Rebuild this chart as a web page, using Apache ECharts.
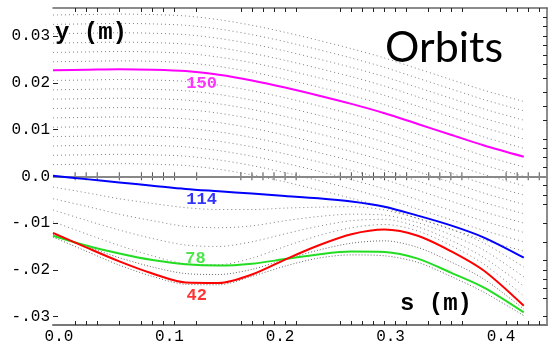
<!DOCTYPE html>
<html>
<head>
<meta charset="utf-8">
<script src="https://cdn.jsdelivr.net/npm/echarts@6/dist/echarts.min.js"></script>
<style>
  html, body { margin: 0; padding: 0; background: #fff; }
  #chart { width: 551px; height: 352px; }
</style>
</head>
<body>
<div id="chart"></div>
<script>
const S = [0, 0.03, 0.06, 0.09, 0.12, 0.15, 0.18, 0.21, 0.24, 0.27, 0.30, 0.33, 0.36, 0.39, 0.426];

// highlighted orbits, y (m)
const ORBIT_150 = [0.0227, 0.0228, 0.0229, 0.0228, 0.0225, 0.0217, 0.0205, 0.0190, 0.0173, 0.0155, 0.0135, 0.0112, 0.0089, 0.0066, 0.0042];
const ORBIT_114 = [0.0001, -0.0006, -0.0013, -0.0020, -0.0027, -0.0032, -0.0037, -0.0042, -0.0047, -0.0054, -0.0065, -0.0084, -0.0105, -0.0131, -0.0174];
const ORBIT_78 = [-0.0127, -0.0148, -0.0165, -0.0179, -0.0188, -0.0191, -0.0187, -0.0177, -0.0167, -0.0161, -0.0162, -0.0176, -0.0206, -0.0238, -0.0291];
const ORBIT_42 = [-0.0121, -0.0152, -0.0182, -0.0208, -0.0227, -0.0228, -0.0210, -0.0178, -0.0148, -0.0124, -0.0114, -0.0127, -0.0160, -0.0202, -0.0277];

// the other orbits, drawn as faint dots
const UPPER_ORBITS = [
  [0.0345, 0.0346, 0.0347, 0.0346, 0.0343, 0.0335, 0.0323, 0.0308, 0.0291, 0.0273, 0.0253, 0.0230, 0.0207, 0.0184, 0.0160],
  [0.0325, 0.0326, 0.0327, 0.0326, 0.0323, 0.0315, 0.0303, 0.0288, 0.0271, 0.0253, 0.0233, 0.0210, 0.0187, 0.0164, 0.0140],
  [0.0305, 0.0306, 0.0307, 0.0306, 0.0303, 0.0295, 0.0283, 0.0268, 0.0251, 0.0233, 0.0213, 0.0190, 0.0167, 0.0144, 0.0120],
  [0.0285, 0.0286, 0.0287, 0.0286, 0.0283, 0.0275, 0.0263, 0.0248, 0.0231, 0.0213, 0.0193, 0.0170, 0.0147, 0.0124, 0.0100],
  [0.0265, 0.0266, 0.0267, 0.0266, 0.0263, 0.0255, 0.0243, 0.0228, 0.0211, 0.0193, 0.0173, 0.0150, 0.0127, 0.0104, 0.0080],
  [0.0245, 0.0246, 0.0247, 0.0246, 0.0243, 0.0235, 0.0223, 0.0208, 0.0191, 0.0173, 0.0153, 0.0130, 0.0107, 0.0084, 0.0060],
  [0.0205, 0.0206, 0.0207, 0.0206, 0.0203, 0.0195, 0.0183, 0.0168, 0.0151, 0.0133, 0.0113, 0.0090, 0.0067, 0.0044, 0.0020],
  [0.0185, 0.0186, 0.0187, 0.0186, 0.0183, 0.0175, 0.0163, 0.0148, 0.0131, 0.0113, 0.0093, 0.0070, 0.0047, 0.0024, 0.0000],
  [0.0165, 0.0166, 0.0167, 0.0166, 0.0163, 0.0155, 0.0143, 0.0128, 0.0111, 0.0093, 0.0073, 0.0050, 0.0027, 0.0004, -0.0020],
  [0.0145, 0.0146, 0.0147, 0.0146, 0.0143, 0.0135, 0.0123, 0.0108, 0.0091, 0.0073, 0.0053, 0.0030, 0.0007, -0.0016, -0.0040],
  [0.0125, 0.0126, 0.0127, 0.0126, 0.0123, 0.0115, 0.0103, 0.0088, 0.0071, 0.0053, 0.0033, 0.0010, -0.0013, -0.0036, -0.0060],
  [0.0105, 0.0106, 0.0107, 0.0106, 0.0103, 0.0095, 0.0083, 0.0068, 0.0051, 0.0033, 0.0013, -0.0010, -0.0033, -0.0056, -0.0080],
  [0.0085, 0.0086, 0.0087, 0.0086, 0.0083, 0.0075, 0.0063, 0.0048, 0.0031, 0.0013, -0.0007, -0.0030, -0.0053, -0.0076, -0.0100],
  [0.0065, 0.0066, 0.0067, 0.0066, 0.0063, 0.0055, 0.0043, 0.0028, 0.0011, -0.0007, -0.0027, -0.0050, -0.0073, -0.0096, -0.0120],
  [0.0045, 0.0046, 0.0047, 0.0046, 0.0043, 0.0035, 0.0023, 0.0008, -0.0009, -0.0027, -0.0047, -0.0070, -0.0093, -0.0116, -0.0140],
  [0.0025, 0.0026, 0.0027, 0.0026, 0.0023, 0.0015, 0.0003, -0.0012, -0.0029, -0.0047, -0.0067, -0.0090, -0.0113, -0.0136, -0.0160]
];
const LOWER_ORBITS = [
  [-0.0023, -0.0035, -0.0048, -0.0058, -0.0067, -0.0071, -0.0071, -0.0068, -0.0066, -0.0065, -0.0072, -0.0090, -0.0113, -0.0143, -0.0194],
  [-0.0048, -0.0064, -0.0081, -0.0095, -0.0107, -0.0110, -0.0106, -0.0095, -0.0086, -0.0081, -0.0083, -0.0099, -0.0125, -0.0158, -0.0215],
  [-0.0072, -0.0094, -0.0115, -0.0133, -0.0147, -0.0150, -0.0140, -0.0123, -0.0107, -0.0095, -0.0092, -0.0108, -0.0137, -0.0174, -0.0235],
  [-0.0097, -0.0123, -0.0148, -0.0170, -0.0187, -0.0189, -0.0175, -0.0150, -0.0127, -0.0110, -0.0103, -0.0117, -0.0148, -0.0188, -0.0256]
];
const DENSE_ORBITS = [
  [-0.0124, -0.0150, -0.0174, -0.0194, -0.0208, -0.0210, -0.0199, -0.0178, -0.0158, -0.0143, -0.0138, -0.0152, -0.0183, -0.0220, -0.0284],
  [-0.0130, -0.0160, -0.0190, -0.0214, -0.0231, -0.0232, -0.0214, -0.0192, -0.0175, -0.0168, -0.0170, -0.0184, -0.0214, -0.0248, -0.0298]
];

// tick marks along s (element positions), and on the y axes
const S_TICKS = [0.02, 0.03, 0.04, 0.06, 0.08, 0.09, 0.10, 0.11, 0.13, 0.17, 0.18, 0.19, 0.20, 0.21, 0.22,
  0.26, 0.27, 0.28, 0.29, 0.30, 0.31, 0.32, 0.34, 0.35, 0.36, 0.37, 0.41, 0.42, 0.43, 0.44];
const S_LABELS = [0, 0.1, 0.2, 0.3, 0.4];
const Y_TICKS = [-0.03, -0.02, -0.01, 0, 0.01, 0.02, 0.03];
const Y_TICK_LABELS = ['-.03', '-.02', '-.01', '0.0', '0.01', '0.02', '0.03'];
const Y_MINOR_TICKS = [0.034, 0.032, 0.030, 0.028, 0.026, 0.024, 0.021, 0.018, 0.015, 0.012, 0.008, 0.006, 0.004, 0.002,
  -0.002, -0.004, -0.006, -0.010, -0.014, -0.018, -0.020, -0.022, -0.024, -0.026, -0.030];

// orbit number labels
const ORBIT_NAMES = ['150', '114', '78', '42'];
const ORBIT_LABEL_S = [0.1345, 0.1345, 0.129, 0.130];
const ORBIT_LABEL_Y = [0.0198, -0.0050, -0.0176, -0.0256];

const COLORS = ['#ff00ff', '#0000ff', '#22dd22', '#ff0000'];
const MONO = 'Liberation Mono';

let chart = echarts.init(document.getElementById('chart'), null, { renderer: 'canvas' });

const toPairs = arr => S.map((s, i) => [s, arr[i]]);

let series = [];

UPPER_ORBITS.concat(LOWER_ORBITS).forEach((orb) => {
  series.push({
    type: 'line',
    data: toPairs(orb),
    smooth: 0.3,
    symbol: 'none',
    silent: true,
    z: 1,
    lineStyle: { color: '#000', width: 1, type: [1, 3], opacity: 0.5 },
  });
});
DENSE_ORBITS.forEach((orb) => {
  series.push({
    type: 'line',
    data: toPairs(orb),
    smooth: 0.3,
    symbol: 'none',
    silent: true,
    z: 1,
    lineStyle: { color: '#000', width: 1, type: [1, 2], opacity: 0.6 },
  });
});

// zero line with its ticks
series.push({
  type: 'scatter',
  data: S_TICKS.map(s => [s, 0]),
  symbol: 'rect',
  symbolSize: [1, 8],
  silent: true,
  z: 3,
  itemStyle: { color: '#222' },
  markLine: {
    silent: true,
    symbol: 'none',
    label: { show: false },
    lineStyle: { color: '#888', width: 2, type: 'solid' },
    data: [{ yAxis: 0 }],
  },
});

[ORBIT_150, ORBIT_114, ORBIT_78, ORBIT_42].forEach((orb, k) => {
  series.push({
    type: 'line',
    data: toPairs(orb),
    smooth: 0.3,
    symbol: 'none',
    z: 5,
    lineStyle: { color: COLORS[k], width: 2 },
  });
});

// labels for the highlighted orbits
series.push({
  type: 'scatter',
  symbolSize: 0,
  silent: true,
  z: 6,
  data: ORBIT_NAMES.map((n, k) => ({
    value: [ORBIT_LABEL_S[k], ORBIT_LABEL_Y[k]],
    label: {
      show: true,
      position: 'inside',
      formatter: n,
      color: COLORS[k],
      fontFamily: MONO,
      fontWeight: 'bold',
      fontSize: 17,
    },
  })),
});

let option = {
  animation: false,
  backgroundColor: '#fff',
  grid: { left: 53, right: 4, top: 8, bottom: 27, containLabel: false, outerBoundsMode: 'none' },
  xAxis: [
    {
      type: 'value',
      position: 'bottom',
      min: 0,
      max: 0.447,
      axisLine: { show: true, onZero: false, lineStyle: { color: '#777', width: 2 } },
      axisTick: { show: true, inside: true, length: 4, customValues: S_TICKS, lineStyle: { color: '#222' } },
      axisLabel: {
        customValues: S_LABELS,
        formatter: v => v.toFixed(1),
        color: '#000',
        fontFamily: MONO,
        fontSize: 16,
        margin: 4,
        padding: [0, 0, 0, 12],
      },
      splitLine: { show: false },
    },
    {
      type: 'value',
      position: 'top',
      min: 0,
      max: 0.447,
      axisLine: { show: true, onZero: false, lineStyle: { color: '#666', width: 1.5 } },
      axisTick: { show: true, inside: true, length: 4, customValues: S_TICKS, lineStyle: { color: '#222' } },
      axisLabel: { show: false },
      splitLine: { show: false },
    },
  ],
  yAxis: [
    {
      type: 'value',
      position: 'left',
      min: -0.0318,
      max: 0.036,
      axisLine: { show: false },
      axisTick: { show: true, inside: true, length: 5, customValues: Y_TICKS, lineStyle: { color: '#222' } },
      axisLabel: {
        customValues: Y_TICKS,
        formatter: v => Y_TICK_LABELS[Y_TICKS.findIndex(t => Math.abs(t - v) < 1e-9)],
        color: '#000',
        fontFamily: MONO,
        fontSize: 16,
        margin: 3,
      },
      splitLine: { show: false },
    },
    {
      type: 'value',
      position: 'right',
      min: -0.0318,
      max: 0.036,
      axisLine: { show: true, onZero: false, lineStyle: { color: '#666', width: 1.5 } },
      axisTick: { show: true, inside: true, length: 4, customValues: Y_MINOR_TICKS, lineStyle: { color: '#222' } },
      axisLabel: { show: false },
      splitLine: { show: false },
    },
  ],
  graphic: [
    {
      type: 'text', left: 385, top: 27, z: 10,
      style: { text: 'Orbits', font: '43px Lato', fill: '#000' },
    },
    {
      type: 'text', left: 55, top: 21, z: 10,
      style: { text: 'y (m)', font: 'bold 24px "Liberation Mono"', fill: '#000' },
    },
    {
      type: 'text', left: 400, top: 292, z: 10,
      style: { text: 's (m)', font: 'bold 24px "Liberation Mono"', fill: '#000' },
    },
  ],
  series: series,
};

chart.setOption(option);
</script>
</body>
</html>
